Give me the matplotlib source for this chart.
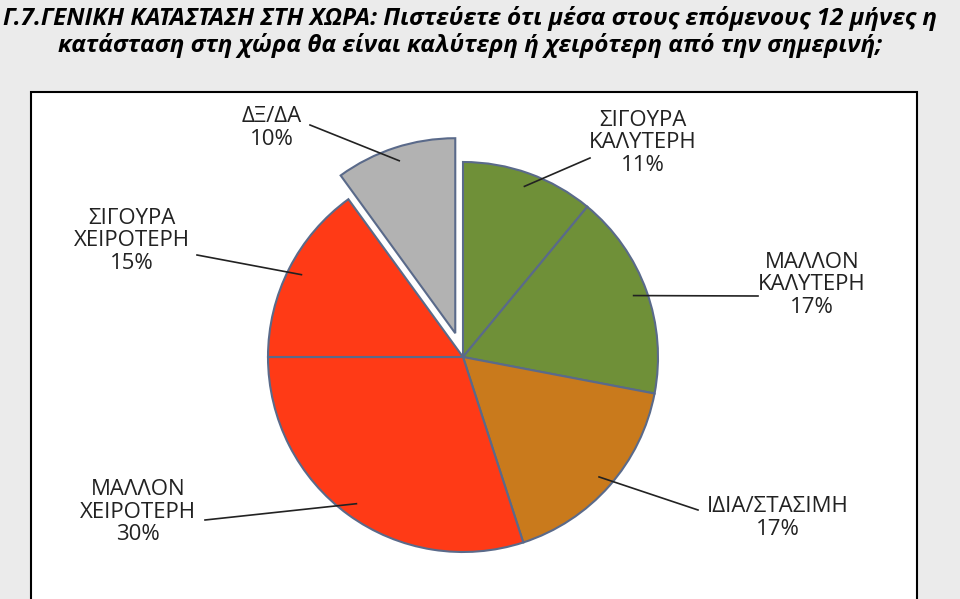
import matplotlib
matplotlib.use("Agg")
import matplotlib.pyplot as plt
import numpy as np
from matplotlib.patches import Rectangle

labels = ["ΣΙΓΟΥΡΑ\nΚΑΛΥΤΕΡΗ", "ΜΑΛΛΟΝ\nΚΑΛΥΤΕΡΗ", "ΙΔΙΑ/ΣΤΑΣΙΜΗ", "ΜΑΛΛΟΝ\nΧΕΙΡΟΤΕΡΗ", "ΣΙΓΟΥΡΑ\nΧΕΙΡΟΤΕΡΗ", "ΔΞ/ΔΑ"]
values = [11, 17, 17, 30, 15, 10]
colors = ["#6f9038", "#6f9038", "#c97a1c", "#ff3a16", "#ff3a16", "#b2b2b2"]
explode = [0, 0, 0, 0, 0, 25]
# label text positions (pixels, y from top)
text_pos = [(643, 143), (812, 285), (778, 518), (138, 512), (132, 241), (272, 128)]
line_start = [(590, 158), (758, 296), (698, 510), (205, 520), (197, 255), (310, 125)]

plt.rcParams['font.family'] = ['Open Sans', 'DejaVu Sans']
fig = plt.figure(figsize=(9.6, 5.99), dpi=100, facecolor="#ebebeb")
ax = fig.add_axes([0, 0, 1, 1])
ax.add_patch(Rectangle((31, -5), 886, 599 - 92 + 5, facecolor="white", edgecolor="black", lw=1.5, zorder=0))

cx, cy, R = 463, 599 - 357, 195
wedges, _ = ax.pie(values, colors=colors, explode=explode, startangle=90, counterclock=False,
                   center=(cx, cy), radius=R, frame=True,
                   wedgeprops=dict(edgecolor="#5a6a8a", linewidth=1.5))
for w in wedges:
    w.set_zorder(2)
ax.set_xlim(0, 960); ax.set_ylim(0, 599); ax.set_aspect('equal'); ax.axis('off')

for i, w in enumerate(wedges):
    ang = np.deg2rad((w.theta1 + w.theta2) / 2)
    wx, wy = w.center
    ex, ey = wx + 0.93 * R * np.cos(ang), wy + 0.93 * R * np.sin(ang)
    tx, ty = text_pos[i]
    ax.text(tx, 599 - ty, f"{labels[i]}\n{values[i]}%", ha="center", va="center", fontsize=16,
            color="#222222", linespacing=1.1, zorder=4)
    sx, sy = line_start[i]
    ax.plot([sx, ex], [599 - sy, ey], color="#222222", lw=1.2, zorder=3)

fig.text(0.49, 0.99, "Γ.7.ΓΕΝΙΚΗ ΚΑΤΑΣΤΑΣΗ ΣΤΗ ΧΩΡΑ: Πιστεύετε ότι μέσα στους επόμενους 12 μήνες η\n"
         "κατάσταση στη χώρα θα είναι καλύτερη ή χειρότερη από την σημερινή;",
         ha="center", va="top", fontsize=17.5, fontstyle="italic", fontweight="bold", linespacing=1.1)
fig.savefig("out.png", dpi=100, facecolor=fig.get_facecolor())
